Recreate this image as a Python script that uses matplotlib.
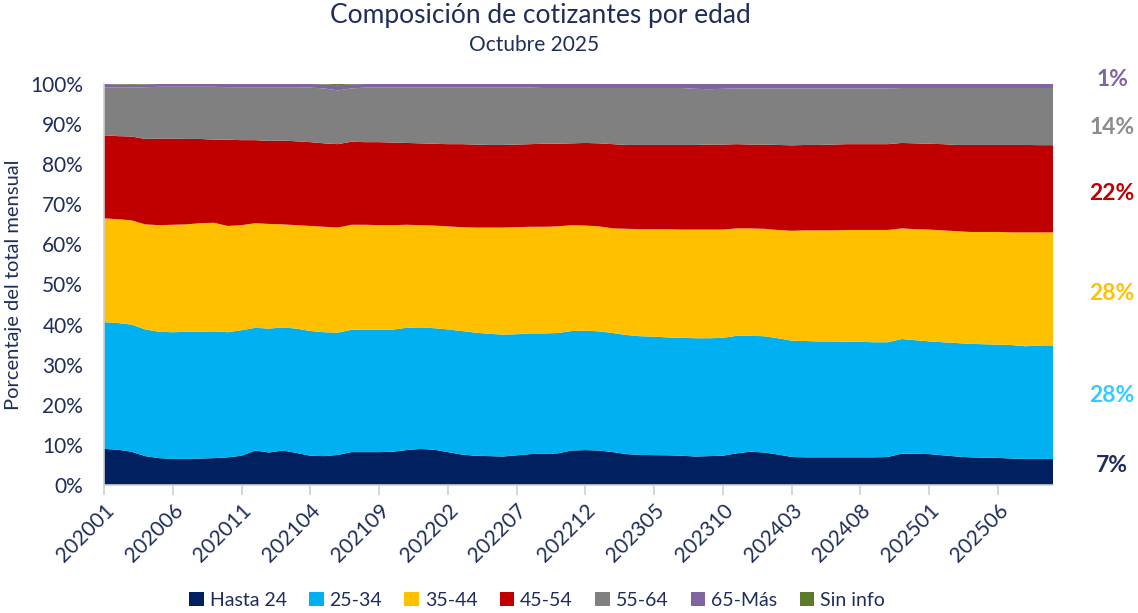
import matplotlib
matplotlib.use("Agg")
import matplotlib.pyplot as plt
from matplotlib.patches import Patch
import numpy as np

plt.rcParams['font.family'] = ['Lato', 'DejaVu Sans']

months = [
    "202001","202002","202003","202004","202005","202006","202007","202008","202009","202010","202011","202012",
    "202101","202102","202103","202104","202105","202106","202107","202108","202109","202110","202111","202112",
    "202201","202202","202203","202204","202205","202206","202207","202208","202209","202210","202211","202212",
    "202301","202302","202303","202304","202305","202306","202307","202308","202309","202310","202311","202312",
    "202401","202402","202403","202404","202405","202406","202407","202408","202409","202410","202411","202412",
    "202501","202502","202503","202504","202505","202506","202507","202508","202509","202510",
]

hasta_24 = [9.0, 8.8, 8.3, 7.2, 6.7, 6.5, 6.5, 6.6, 6.7, 6.9, 7.3, 8.6, 8.1, 8.6, 8.0, 7.3, 7.2, 7.5, 8.2, 8.2,
            8.2, 8.3, 8.7, 9.0, 8.8, 8.2, 7.6, 7.3, 7.2, 7.1, 7.4, 7.7, 7.8, 7.9, 8.6, 8.7, 8.6, 8.2, 7.7, 7.5,
            7.45, 7.4, 7.3, 7.1, 7.2, 7.3, 7.9, 8.3, 8.1, 7.6, 7.0, 6.9, 6.9, 6.9, 6.9, 6.9, 6.9, 7.0, 7.8, 7.8,
            7.7, 7.4, 7.1, 6.9, 6.8, 6.75, 6.6, 6.5, 6.5, 6.5]
g25_34 = [31.6, 31.6, 31.7, 31.6, 31.5, 31.6, 31.7, 31.6, 31.6, 31.2, 31.3, 30.6, 30.9, 30.7, 31.0, 31.1, 30.9, 30.5, 30.5, 30.55,
          30.55, 30.45, 30.5, 30.3, 30.3, 30.6, 30.8, 30.7, 30.5, 30.4, 30.2, 30.1, 30.0, 30.0, 29.8, 29.8, 29.7, 29.7, 29.7, 29.6,
          29.55, 29.4, 29.4, 29.5, 29.4, 29.4, 29.3, 28.9, 29.0, 29.0, 29.0, 29.0, 28.9, 28.9, 28.8, 28.8, 28.7, 28.6, 28.6, 28.3,
          28.1, 28.2, 28.3, 28.3, 28.3, 28.25, 28.3, 28.1, 28.3, 28.3]
g35_44 = [25.9, 25.9, 26.0, 26.2, 26.6, 26.8, 26.8, 27.1, 27.1, 26.5, 26.2, 26.1, 26.1, 25.7, 25.8, 26.2, 26.3, 26.2, 26.2, 26.15,
          26.05, 26.05, 25.7, 25.5, 25.6, 25.7, 25.9, 26.2, 26.5, 26.7, 26.7, 26.6, 26.6, 26.6, 26.4, 26.2, 26.2, 26.1, 26.5, 26.7,
          26.8, 27.0, 27.0, 27.1, 27.1, 27.0, 26.8, 26.8, 26.8, 27.0, 27.4, 27.6, 27.7, 27.7, 27.9, 27.9, 28.0, 28.0, 27.6, 27.7,
          27.9, 27.9, 27.9, 27.9, 28.0, 28.1, 28.1, 28.4, 28.2, 28.2]
g45_54 = [20.7, 20.7, 20.9, 21.3, 21.6, 21.5, 21.3, 21.0, 20.7, 21.5, 21.2, 20.7, 20.7, 20.9, 20.9, 20.9, 20.8, 20.8, 20.7, 20.6,
          20.7, 20.6, 20.4, 20.4, 20.4, 20.5, 20.7, 20.7, 20.6, 20.6, 20.6, 20.6, 20.7, 20.6, 20.4, 20.6, 20.7, 21.0, 20.9, 21.0,
          21.0, 21.0, 21.1, 21.1, 21.2, 21.2, 21.0, 20.9, 21.0, 21.2, 21.3, 21.3, 21.3, 21.4, 21.4, 21.4, 21.4, 21.4, 21.3, 21.4,
          21.4, 21.5, 21.5, 21.7, 21.7, 21.7, 21.8, 21.8, 21.75, 21.75]
g55_64 = [12.0, 12.1, 12.2, 12.9, 12.9, 12.9, 13.0, 13.0, 13.2, 13.1, 13.2, 13.2, 13.4, 13.3, 13.5, 13.6, 13.7, 13.4, 13.3, 13.6,
          13.6, 13.7, 13.8, 13.9, 14.0, 14.1, 14.1, 14.2, 14.3, 14.3, 14.2, 14.1, 13.9, 13.9, 13.8, 13.7, 13.8, 14.0, 14.2, 14.2,
          14.2, 14.2, 14.2, 14.0, 13.8, 13.9, 13.9, 14.0, 14.0, 14.1, 14.2, 14.1, 14.1, 14.0, 13.9, 13.9, 13.9, 13.9, 13.7, 13.8,
          13.9, 14.0, 14.2, 14.2, 14.2, 14.2, 14.2, 14.2, 14.25, 14.25]
g65_mas = [0.8, 0.8, 0.7, 0.7, 0.7, 0.7, 0.7, 0.7, 0.7, 0.8, 0.8, 0.8, 0.8, 0.8, 0.8, 0.9, 1.0, 1.3, 1.0, 0.9,
           0.9, 0.9, 0.9, 0.9, 0.9, 0.9, 0.9, 0.9, 0.9, 0.9, 0.9, 0.9, 1.0, 1.0, 1.0, 1.0, 1.0, 1.0, 1.0, 1.0,
           1.0, 1.0, 1.0, 1.2, 1.3, 1.2, 1.1, 1.1, 1.1, 1.1, 1.1, 1.1, 1.1, 1.1, 1.1, 1.1, 1.1, 1.1, 1.0, 1.0,
           1.0, 1.0, 1.0, 1.0, 1.0, 1.0, 1.0, 1.0, 1.0, 1.0]
sin_info = [0.0, 0.1, 0.2, 0.1, 0.0, 0.0, 0.0, 0.0, 0.0, 0.0, 0.0, 0.0, 0.0, 0.0, 0.0, 0.0, 0.1, 0.3, 0.1, 0.0,
            0.0, 0.0, 0.0, 0.0, 0.0, 0.0, 0.0, 0.0, 0.0, 0.0, 0.0, 0.0, 0.0, 0.0, 0.0, 0.0, 0.0, 0.0, 0.0, 0.0,
            0.0, 0.0, 0.0, 0.0, 0.0, 0.0, 0.0, 0.0, 0.0, 0.0, 0.0, 0.0, 0.0, 0.0, 0.0, 0.0, 0.0, 0.0, 0.0, 0.0,
            0.0, 0.0, 0.0, 0.0, 0.0, 0.0, 0.0, 0.0, 0.0, 0.0]

series_names = ["Hasta 24", "25-34", "35-44", "45-54", "55-64", "65-Más", "Sin info"]
colors = ["#002060", "#00B0F0", "#FFC000", "#C00000", "#808080", "#8064A2", "#5B7B2B"]

end_labels = ["7%", "28%", "28%", "22%", "14%", "1%"]
end_label_colors = ["#1F2D5A", "#33CCFF", "#FFC000", "#C00000", "#8C8C8C", "#8064A2"]
end_label_y = [465, 396, 293, 193, 127, 80]

text_color = "#1F2D5A"

fig = plt.figure(figsize=(11.38, 6.13), dpi=100)
W, H = 1138, 613
ax = fig.add_axes([104 / W, 1 - 485 / H, (1053 - 104) / W, (485 - 84) / H])

x = np.arange(len(months))
ax.stackplot(x, hasta_24, g25_34, g35_44, g45_54, g55_64, g65_mas, sin_info,
             colors=colors, linewidth=0)

ax.set_xlim(0, len(months) - 1)
ax.set_ylim(0, 100)
ax.set_yticks(np.arange(0, 101, 10))
ax.set_yticklabels([f"{v}%" for v in range(0, 101, 10)], fontsize=15, color=text_color)
tick_pos = list(range(0, len(months), 5))
ax.set_xticks(tick_pos)
ax.set_xticklabels([months[i] for i in tick_pos], rotation=45, ha='right',
                   rotation_mode='anchor', fontsize=15, color=text_color)
ax.tick_params(axis='y', length=0, pad=15)
ax.tick_params(axis='x', length=7, color="#D0D0D0", width=1.2, pad=4)

for s in ['top', 'right']:
    ax.spines[s].set_visible(False)
ax.spines['left'].set_color("#D0D0D0")
ax.spines['bottom'].set_color("#D0D0D0")
ax.spines['left'].set_linewidth(1.2)
ax.spines['bottom'].set_linewidth(1.2)

ax.set_ylabel("Porcentaje del total mensual", fontsize=14.5, color=text_color)
ax.yaxis.set_label_coords(-82 / (1053 - 104), 0.5)

fig.text(0.475, 1 - 16 / H, "Composición de cotizantes por edad", ha='center', va='center',
         fontsize=19, color=text_color)
fig.text(0.4695, 1 - 45 / H, "Octubre 2025", ha='center', va='center',
         fontsize=15, color=text_color)

for lab, c, yy in zip(end_labels, end_label_colors, end_label_y):
    fig.text(1112 / W, 1 - yy / H, lab, ha='center', va='center', fontsize=16.5,
             fontweight='bold', color=c)

handles = [Patch(facecolor=c, edgecolor='none') for c in colors]
fig.legend(handles, series_names, loc='center', bbox_to_anchor=(537 / W, 1 - 600 / H),
           ncol=7, frameon=False, fontsize=14, handlelength=0.75, handleheight=0.75,
           handletextpad=0.3, columnspacing=1.15, labelcolor=text_color)

fig.savefig("out.png", dpi=100)
